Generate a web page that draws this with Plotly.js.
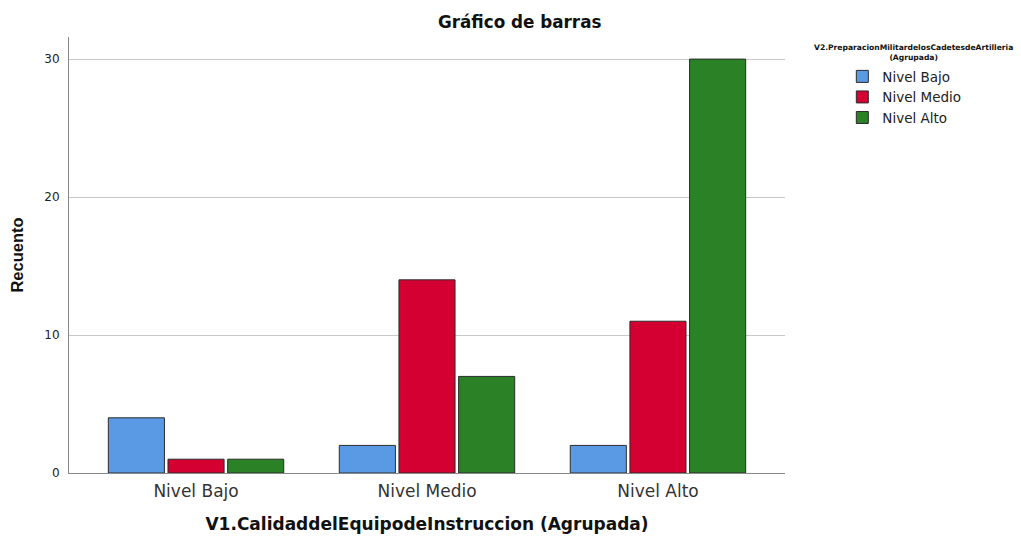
<!DOCTYPE html>
<html><head><meta charset="utf-8">
<script src="https://cdn.plot.ly/plotly-3.0.1.min.js"></script>
<style>body{margin:0;background:#fff}#c{width:1021px;height:536px}</style>
</head><body><div id="c"></div>
<script>
const categories = ["Nivel Bajo", "Nivel Medio", "Nivel Alto"];
const seriesNames = ["Nivel Bajo", "Nivel Medio", "Nivel Alto"];
const nivelBajo = [4, 2, 2];
const nivelMedio = [1, 14, 11];
const nivelAlto = [1, 7, 30];
const colors = ["#5A9AE5", "#D50032", "#2A8126"];
const yTicks = [0, 10, 20, 30];

const values = [nivelBajo, nivelMedio, nivelAlto];
const traces = values.map((v, i) => ({
  type: "bar", name: seriesNames[i], x: categories, y: v,
  marker: {color: colors[i], line: {color: "#2b2b2b", width: 1}}
}));

const F = "DejaVu Sans, Liberation Sans, Arial, sans-serif";
const layout = {
  width: 1021, height: 536,
  margin: {l: 69, r: 236, t: 37, b: 63},
  paper_bgcolor: "#fff", plot_bgcolor: "#fff",
  font: {family: F, color: "#222"},
  title: {text: "<b>Gráfico de barras</b>", font: {size: 16.8, color: "#111", family: F}, x: 0.509, xref: "container", y: 0.958, yref: "container", yanchor: "middle"},
  barmode: "group", bargap: 0.225, bargroupgap: 0.06,
  xaxis: {
    range: [-0.55, 2.55], showgrid: false, showline: true, linecolor: "#888", linewidth: 1,
    ticks: "", tickfont: {size: 17, color: "#333", family: F}, ticklabelstandoff: 3,
    title: {text: "<b>V1.CalidaddelEquipodeInstruccion (Agrupada)</b>", font: {size: 17, color: "#111", family: F}, standoff: 17}
  },
  yaxis: {
    range: [0, 31.6], tickvals: yTicks, showgrid: true, gridcolor: "#c8c8c8", gridwidth: 1,
    showline: true, linecolor: "#888", linewidth: 1, zeroline: false,
    ticks: "", tickfont: {size: 12, color: "#222", family: F}, ticklabelstandoff: 6,
    title: {text: "<b>Recuento</b>", font: {size: 16.5, color: "#111", family: "Liberation Sans, Arial, sans-serif"}, standoff: 16}
  },
  legend: {
    x: 0.825, xanchor: "left", y: 0.886, yanchor: "top",
    xref: "container", yref: "container",
    font: {size: 13.5, color: "#222", family: F}, itemwidth: 30,
    bgcolor: "rgba(0,0,0,0)"
  },
  annotations: [{
    text: "<b>V2.PreparacionMilitardelosCadetesdeArtilleria<br>(Agrupada)</b>",
    xref: "paper", yref: "paper", x: 1.179, y: 0.991, xanchor: "center", yanchor: "top",
    showarrow: false, font: {size: 7.6, color: "#111", family: F}, align: "center"
  }]
};
Plotly.newPlot("c", traces, layout, {displayModeBar: false});
</script></body></html>
